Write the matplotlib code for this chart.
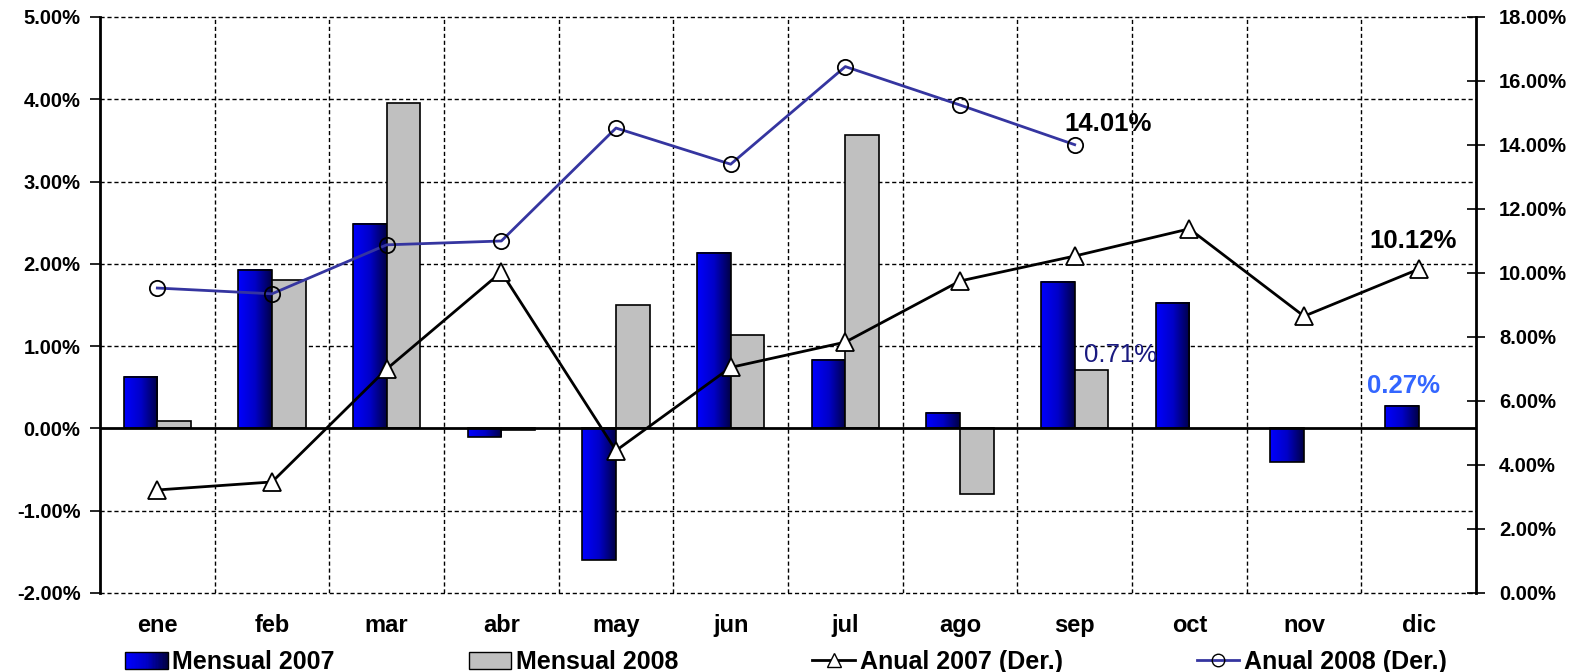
import numpy as np
import matplotlib
matplotlib.use("Agg")
import matplotlib.pyplot as plt
from matplotlib.colors import LinearSegmentedColormap
from matplotlib.patches import Rectangle
from matplotlib.legend_handler import HandlerBase
from matplotlib.lines import Line2D
from matplotlib.ticker import FuncFormatter

plt.rcParams['font.family'] = ['Liberation Sans', 'DejaVu Sans']

months = ['ene', 'feb', 'mar', 'abr', 'may', 'jun', 'jul', 'ago', 'sep', 'oct', 'nov', 'dic']
mensual_2007 = [0.62, 1.93, 2.49, -0.10, -1.60, 2.13, 0.83, 0.19, 1.78, 1.53, -0.41, 0.27]
mensual_2008 = [0.09, 1.80, 3.95, -0.02, 1.50, 1.13, 3.56, -0.80, 0.71]
anual_2007 = [3.22, 3.47, 7.00, 10.03, 4.45, 7.05, 7.84, 9.75, 10.53, 11.38, 8.65, 10.12]
anual_2008 = [9.53, 9.35, 10.88, 11.00, 14.53, 13.40, 16.45, 15.25, 14.01]

left_ticks = [-2, -1, 0, 1, 2, 3, 4, 5]
right_ticks = [0, 2, 4, 6, 8, 10, 12, 14, 16, 18]

blue_cmap = LinearSegmentedColormap.from_list('bl', ['#0000FF', '#0000C8', '#000045'])

fig = plt.figure(figsize=(15.8, 6.72), dpi=100)
ax = fig.add_axes([100/1580, 79/672, 1376/1580, 576/672])
ax2 = ax.twinx()

x = np.arange(len(months))
w = 0.295
dash = (0, (3, 2))

# grid
for v in left_ticks:
    if v != 0:
        ax.axhline(v, color='black', lw=1, ls=dash, zorder=0.5, clip_on=False)
for b in np.arange(0.5, 11.5, 1):
    ax.axvline(b, color='black', lw=1, ls=dash, zorder=0.5)

# bars 2007 (gradient)
bars07 = ax.bar(x - w/2, mensual_2007, width=w, facecolor='none', edgecolor='black', lw=1.2, zorder=3)
grad = np.linspace(0, 1, 256).reshape(1, -1)
for r in bars07:
    bx, by = r.get_xy()
    bw, bh = r.get_width(), r.get_height()
    ax.imshow(grad, extent=[bx, bx + bw, by, by + bh], aspect='auto', cmap=blue_cmap,
              zorder=2.9, interpolation='bilinear')
bars08 = ax.bar(np.arange(len(mensual_2008)) + w/2, mensual_2008, width=w, color='#C0C0C0',
                edgecolor='black', lw=1.2, zorder=3)

ax.axhline(0, color='black', lw=2, zorder=4)

ax.set_xlim(-0.5, 11.5)
ax.set_ylim(-2, 5)
ax.set_yticks(left_ticks)
ax.yaxis.set_major_formatter(FuncFormatter(lambda v, p: f"{v:.2f}%"))
ax.set_xticks(x)
ax.set_xticklabels(months)
ax.tick_params(axis='x', length=0, pad=15, labelsize=17)
ax.tick_params(axis='y', direction='out', length=7, width=1.2, pad=7, labelsize=14.5)
for t in ax.get_xticklabels() + ax.get_yticklabels():
    t.set_fontweight('bold')
for s in ['top', 'bottom', 'right']:
    ax.spines[s].set_visible(False)
ax.spines['left'].set_linewidth(2)

# lines on right axis
ax2.plot(x, anual_2007, color='black', lw=2, marker='^', markersize=13, markerfacecolor='white',
         markeredgecolor='black', markeredgewidth=1.3, zorder=5)
ax2.plot(np.arange(len(anual_2008)), anual_2008, color='#3535A0', lw=2, marker='o', markersize=11,
         markerfacecolor='none', markeredgecolor='black', markeredgewidth=1.3, zorder=5)
ax2.set_ylim(0, 18)
ax2.set_yticks(right_ticks)
ax2.yaxis.set_major_formatter(FuncFormatter(lambda v, p: f"{v:.2f}%"))
ax2.tick_params(axis='y', direction='inout', length=13, width=1.2, pad=10, labelsize=14.5)
for t in ax2.get_yticklabels():
    t.set_fontweight('bold')
for s in ['top', 'bottom', 'left']:
    ax2.spines[s].set_visible(False)
ax2.spines['right'].set_linewidth(2)

# annotations
ax2.text(8.29, 14.65, '14.01%', ha='center', va='center', fontsize=18.5, fontweight='bold', color='black')
ax2.text(10.95, 11.0, '10.12%', ha='center', va='center', fontsize=18.5, fontweight='bold', color='black')
ax.text(8.40, 0.89, '0.71%', ha='center', va='center', fontsize=18.5, color='#1A1A80')
ax.text(10.87, 0.51, '0.27%', ha='center', va='center', fontsize=18.5, fontweight='bold', color='#3366FF')

# legend
class GradHandler(HandlerBase):
    def create_artists(self, legend, orig, xd, yd, wd, ht, fontsize, trans):
        arts = []
        n = 30
        for i in range(n):
            arts.append(Rectangle((xd + i*wd/n, yd), wd/n + 0.3, ht, facecolor=blue_cmap(i/(n-1)),
                                  edgecolor='none', transform=trans))
        arts.append(Rectangle((xd, yd), wd, ht, facecolor='none', edgecolor='black', lw=1, transform=trans))
        return arts

class Dummy:
    pass

h1 = Dummy()
h2 = Rectangle((0, 0), 1, 1, facecolor='#C0C0C0', edgecolor='black', lw=1)
h3 = Line2D([], [], color='black', lw=2, marker='^', markersize=10, markerfacecolor='white',
            markeredgecolor='black')
h4 = Line2D([], [], color='#3535A0', lw=2, marker='o', markersize=9, markerfacecolor='none',
            markeredgecolor='black')
leg = fig.legend([h1, h2, h3, h4], ['Mensual 2007', 'Mensual 2008', 'Anual 2007 (Der.)', 'Anual 2008 (Der.)'],
                 handler_map={Dummy: GradHandler()}, loc='center left', bbox_to_anchor=(125/1580, 10/672),
                 ncol=4, frameon=False, handlelength=1.7, handletextpad=0.2, columnspacing=5.35,
                 prop={'weight': 'bold', 'size': 18}, borderpad=0, borderaxespad=0)

fig.savefig('out.png', dpi=100)
